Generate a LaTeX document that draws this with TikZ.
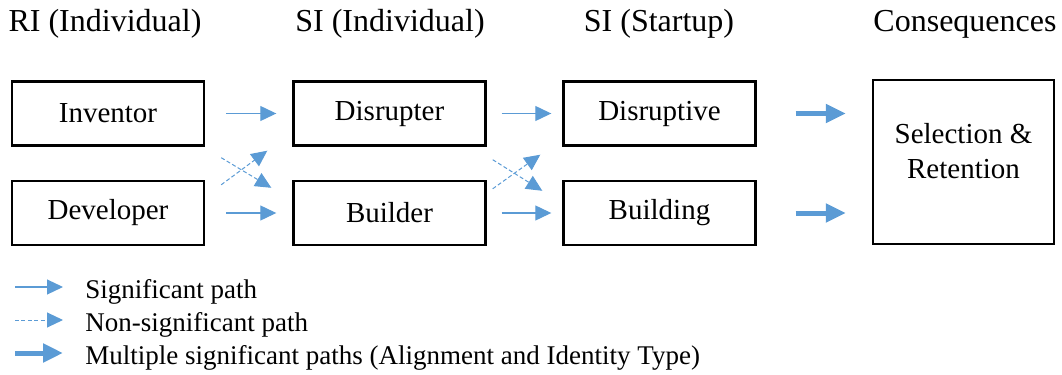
\documentclass[tikz,border=0pt]{standalone}
\usepackage{fontspec}
\setmainfont{Liberation Serif}
\usepackage{xcolor}
\definecolor{colorPath}{HTML}{5B9BD5}
\usetikzlibrary{arrows.meta, positioning}
\tikzset{box/.style={draw, line width=1.2pt, minimum width=96pt, minimum height=32pt, inner sep=0pt, font=\fontsize{14.5}{17.5}\selectfont}}
\tikzset{heading/.style={anchor=base, inner sep=0pt, font=\fontsize{16}{19}\selectfont}}
\tikzset{legend/.style={anchor=base west, inner sep=0pt, font=\fontsize{13.5}{16}\selectfont}}

\begin{document}
\begin{tikzpicture}[x=0.5pt, y=-0.5pt, sig/.style={-{Triangle[length=8pt,width=7.5pt]}, colorPath, line width=0.6pt}, nonsig/.style={sig, dash pattern=on 2pt off 1.2pt, line width=0.5pt}, multi/.style={-{Triangle[length=10pt,width=9pt]}, colorPath, line width=2.5pt}]
\useasboundingbox (0,0) rectangle (1062,375);
\node[heading] (hri) at (105,32) {RI (Individual)};
\node[heading] (hsi) at (390,32) {SI (Individual)};
\node[heading] (hst) at (659,32) {SI (Startup)};
\node[heading] (hcon) at (965,32) {Consequences};
\node[box] (inv) at (108,113.5) {Inventor};
\node[box] (dev) at (108,213) {Developer};
\node[box] (dsr) at (389.5,113.5) {Disrupter};
\node[box] (bld) at (389.5,213) {Builder};
\node[box] (dsv) at (659.5,113.5) {Disruptive};
\node[box] (bdg) at (659.5,213) {Building};
\node[box, minimum width=90.5pt, minimum height=82pt, align=center, text depth=11pt] (sel) at (963.5,162) {Selection \&\\Retention};
\draw [sig, shorten <=10.5pt, shorten >=8pt] (inv.east) -- (dsr.west);
\draw [sig, shorten <=10.5pt, shorten >=8pt] (dev.east) -- (bld.west);
\draw [nonsig] ([shift={(16,11)}]inv.south east) -- ([shift={(-21,8)}]bld.north west);
\draw [nonsig] ([shift={(16,5)}]dev.north east) -- ([shift={(-25,4)}]dsr.south west);
\draw [sig, shorten <=7.5pt, shorten >=5.5pt] (dsr.east) -- (dsv.west);
\draw [sig, shorten <=7.5pt, shorten >=5.5pt] (bld.east) -- (bdg.west);
\draw [nonsig] ([shift={(6,13)}]dsr.south east) -- ([shift={(-20,11)}]bdg.north west);
\draw [nonsig] ([shift={(6,9)}]bld.north east) -- ([shift={(-22,8)}]dsv.south west);
\draw [multi, shorten <=19.5pt, shorten >=13pt] (dsv.east) -- (dsv.east -| sel.west);
\draw [multi, shorten <=19.5pt, shorten >=13pt] (bdg.east) -- (bdg.east -| sel.west);
\node[legend] (leg1) at (85,298) {Significant path};
\node[legend] (leg2) at (85,331) {Non-significant path};
\node[legend] (leg3) at (85,364) {Multiple significant paths (Alignment and Identity Type)};
\coordinate (c1) at (15,287);
\coordinate (c2) at (15,320);
\coordinate (c3) at (15,353);
\draw [sig, shorten >=11pt] (c1) -- (c1 -| leg1.west);
\draw [nonsig, shorten >=11pt] (c2) -- (c2 -| leg2.west);
\draw [multi, shorten >=11pt] (c3) -- (c3 -| leg3.west);
\end{tikzpicture}
\end{document}
